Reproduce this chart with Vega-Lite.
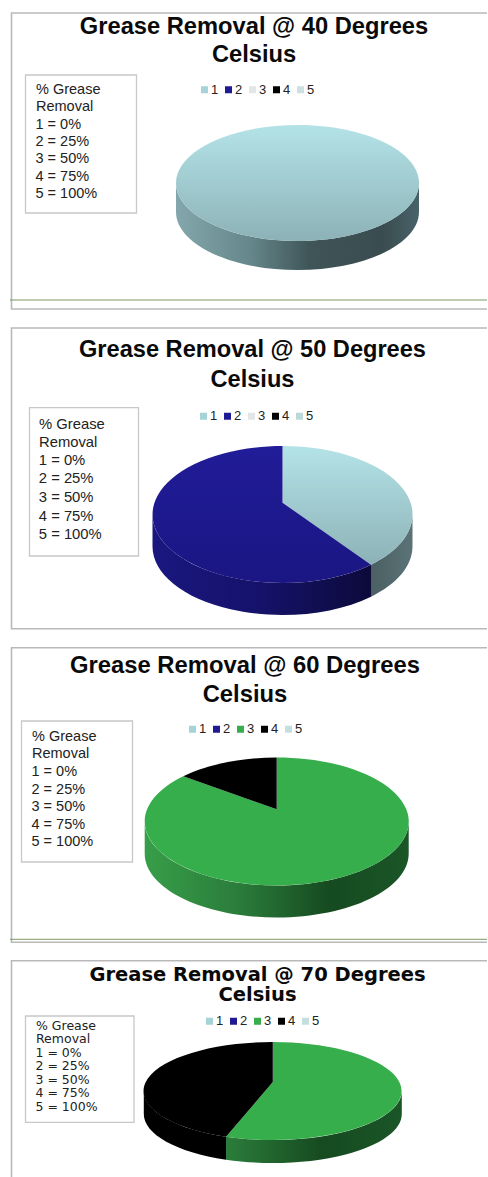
{"$schema":"https://vega.github.io/schema/vega-lite/v6.json","padding":0,"spacing":0,"background":"white","resolve":{"scale":{"fill":"independent","stroke":"independent"},"legend":{"fill":"independent","stroke":"independent"}},"config":{"view":{"stroke":null},"concat":{"spacing":0},"point":{"opacity":1,"size":4},"font":"Liberation Sans","text":{"font":"Liberation Sans","fontWeight":"bold","color":"#0a0a0a","align":"center","baseline":"alphabetic"},"legend":{"labelFont":"Liberation Sans","titleFont":"Liberation Sans","labelColor":"#222","titleColor":"#222"}},
"vconcat":[
{"width":488,"height":320,
"data":{"values":[{"grade":"1","key":"1 = 0%","share":100},{"grade":"2","key":"2 = 25%","share":0},{"grade":"3","key":"3 = 50%","share":0},{"grade":"4","key":"4 = 75%","share":0},{"grade":"5","key":"5 = 100%","share":0}]},
"layer":[
{"data":{"values":[{"part":"frame"}]},"mark":{"type":"point","shape":"M243,-147H-232.5V149H243","filled":false,"stroke":"#b9b9b9","strokeWidth":1.6},"encoding":{}},
{"data":{"values":[{"part":"rule"}]},"mark":{"type":"point","shape":"M-234,140H243","filled":false,"stroke":"#7c9a62","strokeWidth":1},"encoding":{}},
{"data":{"values":[{"part":"box"}]},"mark":{"type":"point","shape":"M-218.5,-85H-107.5V53H-218.5Z","filled":true,"fill":"white","stroke":"#c8c8c8","strokeWidth":1.3},"encoding":{}},
{"data":{"values":[{"part":"title"}]},"mark":{"type":"text","text":["Grease Removal @ 40 Degrees","Celsius"],"fontSize":23.7,"lineHeight":28,"dx":10,"dy":-126},"encoding":{}},
{"transform":[{"filter":"datum.grade=='1'"}],"mark":{"type":"point","shape":"M-68,23A121.5,58 0 0 0 175,23L175,52A121.5,58 0 0 1 -68,52Z","filled":true,"fill":{"gradient":"linear","x1":0,"y1":0,"x2":1,"y2":0,"stops":[{"offset":0,"color":"#83a7ac"},{"offset":0.3,"color":"#66888c"},{"offset":0.55,"color":"#3f5558"},{"offset":0.85,"color":"#3a4c4f"},{"offset":1,"color":"#48626a"}]}},"encoding":{}},
{"transform":[{"filter":"datum.grade=='1'"}],"mark":{"type":"point","shape":"M-68,23A121.5,58 0 1 1 175,23A121.5,58 0 1 1 -68,23Z","filled":true,"fill":{"gradient":"linear","x1":0,"y1":0,"x2":0,"y2":1,"stops":[{"offset":0,"color":"#b4e3e7"},{"offset":1,"color":"#8cb2b7"}]}},"encoding":{}},
{"mark":{"type":"point","filled":true,"size":0},"encoding":{"fill":{"field":"grade","type":"nominal","scale":{"domain":["1","2","3","4","5"],"range":["#a5d3d7","#1f1a94","#e2e6e6","#000000","#cbe0e0"]},"legend":{"orient":"none","legendX":198,"legendY":83,"direction":"horizontal","columns":5,"title":null,"symbolType":"square","symbolSize":49,"symbolStrokeWidth":0,"symbolOpacity":1,"labelFontSize":13,"labelOffset":0,"columnPadding":3}},"stroke":{"field":"key","type":"nominal","scale":{"domain":["1 = 0%","2 = 25%","3 = 50%","4 = 75%","5 = 100%"],"range":["transparent"]},"legend":{"orient":"none","legendX":36,"legendY":83,"title":["% Grease","Removal"],"titleFontSize":14.5,"titleFontWeight":"normal","titleLineHeight":17.3,"titlePadding":3,"labelFontSize":14.5,"symbolSize":0,"symbolStrokeWidth":0,"labelOffset":-15,"rowPadding":2.2}}}}
]},
{"width":488,"height":316,
"data":{"values":[{"grade":"1","key":"1 = 0%","share":40},{"grade":"2","key":"2 = 25%","share":60},{"grade":"3","key":"3 = 50%","share":0},{"grade":"4","key":"4 = 75%","share":0},{"grade":"5","key":"5 = 100%","share":0}]},
"layer":[
{"data":{"values":[{"part":"frame"}]},"mark":{"type":"point","shape":"M243,-150H-232.5V150.7H243","filled":false,"stroke":"#b9b9b9","strokeWidth":1.6},"encoding":{}},
{"data":{"values":[{"part":"box"}]},"mark":{"type":"point","shape":"M-214.5,-70.4H-105.5V78H-214.5Z","filled":true,"fill":"white","stroke":"#c8c8c8","strokeWidth":1.3},"encoding":{}},
{"data":{"values":[{"part":"title"}]},"mark":{"type":"text","text":["Grease Removal @ 50 Degrees","Celsius"],"fontSize":23.6,"lineHeight":30.5,"dx":8.5,"dy":-121.3},"encoding":{}},
{"transform":[{"filter":"datum.grade=='1'"}],"mark":{"type":"point","shape":"M127,86.7A130,68.5 0 0 0 168.5,36.5L168.5,68.5A130,68.5 0 0 1 127,118.7Z","filled":true,"fill":{"gradient":"linear","x1":0,"y1":0,"x2":1,"y2":0,"stops":[{"offset":0,"color":"#4a5f62"},{"offset":1,"color":"#5b7377"}]}},"encoding":{}},
{"transform":[{"filter":"datum.grade=='2'"}],"mark":{"type":"point","shape":"M-91.5,36.5A130,68.5 0 0 0 127,86.7L127,118.7A130,68.5 0 0 1 -91.5,68.5Z","filled":true,"fill":{"gradient":"linear","x1":0,"y1":0,"x2":1,"y2":0,"stops":[{"offset":0,"color":"#1a1780"},{"offset":0.5,"color":"#15126a"},{"offset":1,"color":"#0c0a3a"}]}},"encoding":{}},
{"transform":[{"filter":"datum.grade=='1'"}],"mark":{"type":"point","shape":"M38.5,24.7L38.5,-32A130,68.5 0 0 1 127,86.7Z","filled":true,"fill":{"gradient":"linear","x1":0,"y1":0,"x2":0,"y2":1,"stops":[{"offset":0,"color":"#b4e3e7"},{"offset":1,"color":"#8cb2b7"}]}},"encoding":{}},
{"transform":[{"filter":"datum.grade=='2'"}],"mark":{"type":"point","shape":"M38.5,24.7L38.5,-32A130,68.5 0 1 0 127,86.7Z","filled":true,"fill":{"gradient":"linear","x1":0,"y1":0,"x2":0,"y2":1,"stops":[{"offset":0,"color":"#211c98"},{"offset":1,"color":"#1a1683"}]}},"encoding":{}},
{"mark":{"type":"point","filled":true,"size":0},"encoding":{"fill":{"field":"grade","type":"nominal","scale":{"domain":["1","2","3","4","5"],"range":["#a5d3d7","#1f1a94","#e2e6e6","#000000","#bcd8da"]},"legend":{"orient":"none","legendX":197,"legendY":89.5,"direction":"horizontal","columns":5,"title":null,"symbolType":"square","symbolSize":49,"symbolStrokeWidth":0,"symbolOpacity":1,"labelFontSize":13,"labelOffset":0,"columnPadding":3}},"stroke":{"field":"key","type":"nominal","scale":{"domain":["1 = 0%","2 = 25%","3 = 50%","4 = 75%","5 = 100%"],"range":["transparent"]},"legend":{"orient":"none","legendX":39,"legendY":96.5,"title":["% Grease","Removal"],"titleFontSize":14.8,"titleFontWeight":"normal","titleLineHeight":18.6,"titlePadding":3.2,"labelFontSize":14.8,"symbolSize":0,"symbolStrokeWidth":0,"labelOffset":-15,"rowPadding":2.7}}}}
]},
{"width":488,"height":316,
"data":{"values":[{"grade":"3","key":"3 = 50%","share":87},{"grade":"4","key":"4 = 75%","share":13},{"grade":"1","key":"1 = 0%","share":0},{"grade":"2","key":"2 = 25%","share":0},{"grade":"5","key":"5 = 100%","share":0}]},
"layer":[
{"data":{"values":[{"part":"frame"}]},"mark":{"type":"point","shape":"M243,-146.3H-232.5V148.3H243","filled":false,"stroke":"#b9b9b9","strokeWidth":1.6},"encoding":{}},
{"data":{"values":[{"part":"rule"}]},"mark":{"type":"point","shape":"M-234,145.3H243","filled":false,"stroke":"#7c9a62","strokeWidth":1},"encoding":{}},
{"data":{"values":[{"part":"box"}]},"mark":{"type":"point","shape":"M-222.5,-73H-111.5V68H-222.5Z","filled":true,"fill":"white","stroke":"#c8c8c8","strokeWidth":1.3},"encoding":{}},
{"data":{"values":[{"part":"title"}]},"mark":{"type":"text","text":["Grease Removal @ 60 Degrees","Celsius"],"fontSize":23.8,"lineHeight":29,"dx":1,"dy":-121.3},"encoding":{}},
{"transform":[{"filter":"datum.grade=='3'"}],"mark":{"type":"point","shape":"M-99.3,27.5A132,64 0 0 0 164.7,27.5L164.7,59.5A132,64 0 0 1 -99.3,59.5Z","filled":true,"fill":{"gradient":"linear","x1":0,"y1":0,"x2":1,"y2":0,"stops":[{"offset":0,"color":"#379e49"},{"offset":0.35,"color":"#2b7d3b"},{"offset":0.7,"color":"#164a20"},{"offset":1,"color":"#1a5627"}]}},"encoding":{}},
{"transform":[{"filter":"datum.grade=='3'"}],"mark":{"type":"point","shape":"M32.7,15.3L32.7,-36.5A132,64 0 1 1 -60.7,-17.7Z","filled":true,"fill":"#37ae4c"},"encoding":{}},
{"transform":[{"filter":"datum.grade=='4'"}],"mark":{"type":"point","shape":"M32.7,15.3L32.7,-36.5A132,64 0 0 0 -60.7,-17.7Z","filled":true,"fill":"#000000"},"encoding":{}},
{"mark":{"type":"point","filled":true,"size":0},"encoding":{"fill":{"field":"grade","type":"nominal","scale":{"domain":["1","2","3","4","5"],"range":["#a5d3d7","#1f1a94","#37ae4c","#000000","#c5dfe0"]},"legend":{"orient":"none","legendX":186,"legendY":86.5,"direction":"horizontal","columns":5,"title":null,"symbolType":"square","symbolSize":49,"symbolStrokeWidth":0,"symbolOpacity":1,"labelFontSize":13,"labelOffset":0,"columnPadding":3}},"stroke":{"field":"key","type":"nominal","scale":{"domain":["1 = 0%","2 = 25%","3 = 50%","4 = 75%","5 = 100%"],"range":["transparent"]},"legend":{"orient":"none","legendX":32,"legendY":93.7,"title":["% Grease","Removal"],"titleFontSize":14.5,"titleFontWeight":"normal","titleLineHeight":17.6,"titlePadding":3,"labelFontSize":14.5,"symbolSize":0,"symbolStrokeWidth":0,"labelOffset":-15,"rowPadding":2.6}}}}
]},
{"width":488,"height":225,
"data":{"values":[{"grade":"3","key":"3 = 50%","share":55},{"grade":"4","key":"4 = 75%","share":45},{"grade":"1","key":"1 = 0%","share":0},{"grade":"2","key":"2 = 25%","share":0},{"grade":"5","key":"5 = 100%","share":0}]},
"layer":[
{"data":{"values":[{"part":"frame"}]},"mark":{"type":"point","shape":"M243,-103.8H-232.5V112.5","filled":false,"stroke":"#b9b9b9","strokeWidth":1.6},"encoding":{}},
{"data":{"values":[{"part":"box"}]},"mark":{"type":"point","shape":"M-218.5,-48.5H-110V57.8H-218.5Z","filled":true,"fill":"white","stroke":"#c8c8c8","strokeWidth":1.3},"encoding":{}},
{"data":{"values":[{"part":"title"}]},"mark":{"type":"text","text":["Grease Removal @ 70 Degrees","Celsius"],"font":"DejaVu Sans","fontSize":19.5,"lineHeight":20.3,"dx":13.5,"dy":-83.8},"encoding":{}},
{"transform":[{"filter":"datum.grade=='4'"}],"mark":{"type":"point","shape":"M-100.2,26.5A129,49 0 0 0 -18,72.2L-18,95.2A129,49 0 0 1 -100.2,49.5Z","filled":true,"fill":"#000000"},"encoding":{}},
{"transform":[{"filter":"datum.grade=='3'"}],"mark":{"type":"point","shape":"M-18,72.2A129,49 0 0 0 157.8,26.5L157.8,49.5A129,49 0 0 1 -18,95.2Z","filled":true,"fill":{"gradient":"linear","x1":0,"y1":0,"x2":1,"y2":0,"stops":[{"offset":0,"color":"#2b7d3b"},{"offset":0.55,"color":"#164a20"},{"offset":1,"color":"#1a5627"}]}},"encoding":{}},
{"transform":[{"filter":"datum.grade=='3'"}],"mark":{"type":"point","shape":"M28.8,17.5L28.8,-22.5A129,49 0 1 1 -18,72.2Z","filled":true,"fill":"#37ae4c"},"encoding":{}},
{"transform":[{"filter":"datum.grade=='4'"}],"mark":{"type":"point","shape":"M28.8,17.5L28.8,-22.5A129,49 0 0 0 -18,72.2Z","filled":true,"fill":"#000000"},"encoding":{}},
{"mark":{"type":"point","filled":true,"size":0},"encoding":{"fill":{"field":"grade","type":"nominal","scale":{"domain":["1","2","3","4","5"],"range":["#a5d3d7","#1f1a94","#37ae4c","#000000","#c5dfe0"]},"legend":{"orient":"none","legendX":203,"legendY":62.5,"direction":"horizontal","columns":5,"title":null,"symbolType":"square","symbolSize":49,"symbolStrokeWidth":0,"symbolOpacity":1,"labelFontSize":13,"labelOffset":0,"columnPadding":3}},"stroke":{"field":"key","type":"nominal","scale":{"domain":["1 = 0%","2 = 25%","3 = 50%","4 = 75%","5 = 100%"],"range":["transparent"]},"legend":{"orient":"none","legendX":36,"legendY":68,"title":["% Grease","Removal"],"titleFont":"DejaVu Sans","labelFont":"DejaVu Sans","titleFontSize":12.5,"titleFontWeight":"normal","titleLineHeight":13.3,"titlePadding":0.5,"labelFontSize":12.5,"symbolSize":0,"symbolStrokeWidth":0,"labelOffset":-13,"rowPadding":0.5}}}}
]}
]}
